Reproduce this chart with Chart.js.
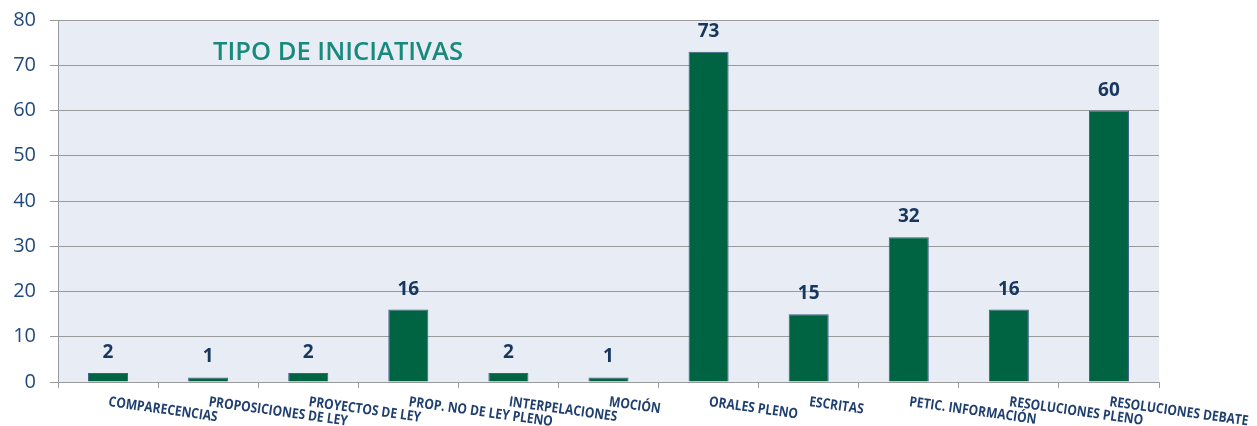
<!DOCTYPE html>
<html>
<head>
    <meta charset="utf-8">
    <title>Tipo de iniciativas</title>
    <script src="https://cdn.jsdelivr.net/npm/chart.js"></script>
    <style>
        body { margin: 0; background: #ffffff; }
        #wrap { width: 1257px; height: 426px; }
    </style>
</head>
<body>
    <div id="wrap"><canvas id="iniciativasChart"></canvas></div>

    <script>
        const categories = ['COMPARECENCIAS', 'PROPOSICIONES DE LEY', 'PROYECTOS DE LEY', 'PROP. NO DE LEY PLENO',
            'INTERPELACIONES', 'MOCIÓN', 'ORALES PLENO', 'ESCRITAS', 'PETIC. INFORMACIÓN',
            'RESOLUCIONES PLENO', 'RESOLUCIONES DEBATE'];
        const totals = [2, 1, 2, 16, 2, 1, 73, 15, 32, 16, 60];
        const yTicks = [0, 10, 20, 30, 40, 50, 60, 70, 80];
        const chartTitle = 'TIPO DE INICIATIVAS';

        // plot background + title inside the plot area
        const plotBackground = {
            id: 'plotBackground',
            beforeDraw(chart) {
                const { ctx, chartArea } = chart;
                ctx.save();
                ctx.fillStyle = '#E8ECF4';
                ctx.fillRect(chartArea.left, chartArea.top, chartArea.right - chartArea.left, chartArea.bottom - chartArea.top);
                ctx.restore();
            },
            afterDraw(chart) {
                const { ctx } = chart;
                ctx.save();
                ctx.font = '600 25px "Open Sans", sans-serif';
                ctx.fillStyle = '#178A7C';
                ctx.textBaseline = 'alphabetic';
                const w = ctx.measureText(chartTitle).width;
                ctx.translate(213, 60);
                ctx.scale(250 / w, 1);
                ctx.fillText(chartTitle, 0, 0);
                ctx.restore();
            }
        };

        // value labels above the bars
        const valueLabels = {
            id: 'valueLabels',
            afterDatasetsDraw(chart) {
                const { ctx } = chart;
                const meta = chart.getDatasetMeta(0);
                ctx.save();
                ctx.font = 'bold 19px "Open Sans", sans-serif';
                ctx.fillStyle = '#17375E';
                ctx.textAlign = 'center';
                ctx.textBaseline = 'alphabetic';
                meta.data.forEach((bar, i) => {
                    ctx.fillText(String(totals[i]), bar.x, bar.y - 15);
                });
                ctx.restore();
            }
        };

        // slanted category labels under the axis
        const slantedLabels = {
            id: 'slantedLabels',
            afterDraw(chart) {
                const { ctx } = chart;
                const xScale = chart.scales.x;
                ctx.save();
                ctx.font = 'bold 14px "Open Sans", sans-serif';
                ctx.fillStyle = '#1F3F6F';
                ctx.textBaseline = 'alphabetic';
                categories.forEach((label, i) => {
                    const x = xScale.getPixelForValue(i);
                    ctx.save();
                    ctx.translate(x, 406);
                    ctx.rotate(8 * Math.PI / 180);
                    ctx.scale(0.86, 1);
                    ctx.fillText(label, 0, 0);
                    ctx.restore();
                });
                ctx.restore();
            }
        };

        new Chart(document.getElementById('iniciativasChart'), {
            type: 'bar',
            data: {
                labels: categories,
                datasets: [{
                    label: 'Iniciativas',
                    data: totals,
                    backgroundColor: '#006341',
                    borderColor: '#3F5F8A',
                    borderWidth: 1,
                    categoryPercentage: 1,
                    barPercentage: 0.4
                }]
            },
            options: {
                responsive: true,
                maintainAspectRatio: false,
                animation: false,
                layout: { padding: { top: 20, right: 98, left: 0, bottom: 0 } },
                plugins: {
                    legend: { display: false },
                    tooltip: { enabled: false }
                },
                scales: {
                    x: {
                        offset: true,
                        grid: {
                            offset: true,
                            drawOnChartArea: false,
                            drawTicks: true,
                            tickLength: 6,
                            color: '#9A9A9A'
                        },
                        border: { color: '#9A9A9A' },
                        ticks: { display: false },
                        afterFit(scale) { scale.height = 44; }
                    },
                    y: {
                        min: 0,
                        max: 80,
                        afterBuildTicks(scale) {
                            scale.ticks = yTicks.map(v => ({ value: v }));
                        },
                        grid: {
                            color: '#9A9A9A',
                            tickLength: 8
                        },
                        border: { color: '#9A9A9A' },
                        ticks: {
                            color: '#1F497D',
                            font: { family: '"Open Sans", sans-serif', size: 20 },
                            padding: 14
                        },
                        afterFit(scale) {
                            scale.width = 58;
                            scale.paddingTop = 0;
                            scale.paddingBottom = 0;
                        }
                    }
                }
            },
            plugins: [plotBackground, valueLabels, slantedLabels]
        });
    </script>
</body>
</html>
